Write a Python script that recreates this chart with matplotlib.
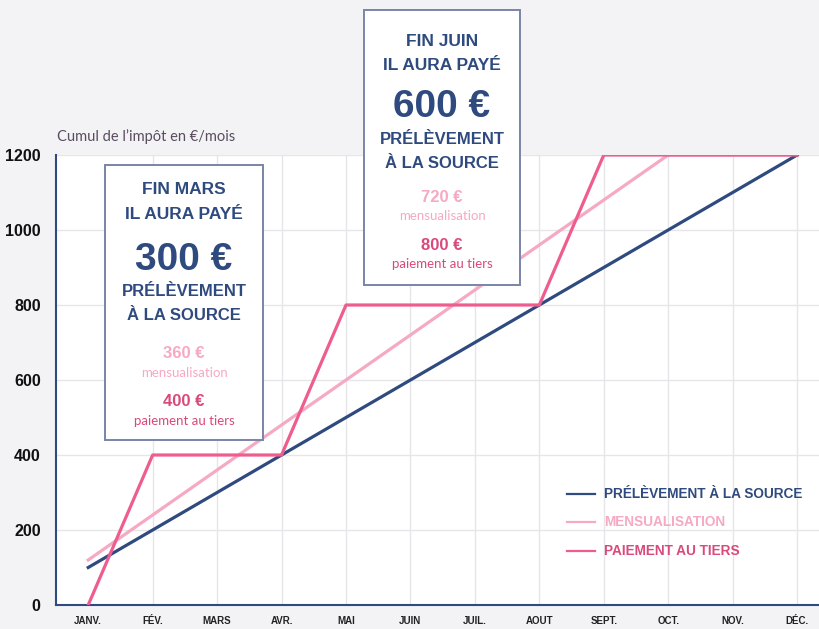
import matplotlib
matplotlib.use("Agg")
import matplotlib.pyplot as plt
from matplotlib.patches import Rectangle
from matplotlib.lines import Line2D

# --- data -----------------------------------------------------------------
months = ["JANV.", "FÉV.", "MARS", "AVR.", "MAI", "JUIN",
          "JUIL.", "AOUT", "SEPT.", "OCT.", "NOV.", "DÉC."]
prelevement = [100, 200, 300, 400, 500, 600, 700, 800, 900, 1000, 1100, 1200]
mensualisation = [120, 240, 360, 480, 600, 720, 840, 960, 1080, 1200, 1200, 1200]
tiers = [0, 400, 400, 400, 800, 800, 800, 800, 1200, 1200, 1200, 1200]
y_ticks = [0, 200, 400, 600, 800, 1000, 1200]

series_labels = ["PRÉLÈVEMENT À LA SOURCE", "MENSUALISATION", "PAIEMENT AU TIERS"]

NAVY = "#2f4a7e"
LIGHT_PINK = "#f6a9c2"
PINK = "#ee5d8e"
PINK_TEXT = "#d9497c"
GRID = "#e6e6ea"
BG = "#f3f3f6"
BOX_EDGE = "#7a84a8"

COND = ["Liberation Sans", "DejaVu Sans"]
THIN = ["Lato", "DejaVu Sans"]

fig = plt.figure(figsize=(8.19, 6.29), dpi=100)
fig.patch.set_facecolor(BG)
ax = fig.add_axes([56 / 819, 24 / 629, 1 - 56 / 819, (605 - 155) / 629])
ax.set_facecolor("white")

x = list(range(len(months)))
ax.plot(x, prelevement, color=NAVY, lw=2.3, zorder=5)
ax.plot(x, mensualisation, color=LIGHT_PINK, lw=2.3, zorder=4)
ax.plot(x, tiers, color=PINK, lw=2.3, zorder=6)

ax.set_xlim(-0.5, 11.34)
ax.set_ylim(0, 1200)
ax.set_xticks(x)
ax.set_xticklabels(months)
ax.set_yticks(y_ticks)
ax.grid(True, color=GRID, lw=1.0, zorder=0)
ax.get_xgridlines()[0].set_visible(False)
ax.set_axisbelow(True)
for s in ["top", "right"]:
    ax.spines[s].set_visible(False)
for s in ["left", "bottom"]:
    ax.spines[s].set_color(NAVY)
    ax.spines[s].set_linewidth(1.5)
ax.tick_params(length=0)
ax.tick_params(axis="y", pad=11)
ax.tick_params(axis="x", pad=8)
for lab in ax.get_yticklabels():
    lab.set_family(COND)
    lab.set_fontweight("bold")
    lab.set_fontsize(11.5)
    lab.set_color("#111111")
for lab in ax.get_xticklabels():
    lab.set_family(COND)
    lab.set_fontweight("bold")
    lab.set_fontsize(7)
    lab.set_color("#222222")

fig.text(57 / 819, 1 - 137 / 629, "Cumul de l’impôt en €/mois",
         fontsize=10.5, color="#5a4c60", va="center", ha="left", family=THIN)


# --- annotation boxes -----------------------------------------------------
def px(xp, yp):
    return xp / 819, 1 - yp / 629


def box(x0, y0, x1, y1, cx, rows):
    fig.add_artist(Rectangle((x0 / 819, 1 - y1 / 629), (x1 - x0) / 819,
                             (y1 - y0) / 629, transform=fig.transFigure,
                             facecolor="white", edgecolor=BOX_EDGE, lw=1.4,
                             zorder=10))
    for yp, txt, size, color, weight, fam in rows:
        fig.text(*px(cx, yp), txt, fontsize=size, color=color, fontweight=weight,
                 family=fam, ha="center", va="center", zorder=11)


def rows_for(head, amount, mens, tie, ys):
    return [
        (ys[0], head, 12.5, NAVY, "bold", COND),
        (ys[1], "IL AURA PAYÉ", 12.5, NAVY, "bold", COND),
        (ys[2], amount, 28, NAVY, "bold", COND),
        (ys[3], "PRÉLÈVEMENT", 12, NAVY, "bold", COND),
        (ys[4], "À LA SOURCE", 12, NAVY, "bold", COND),
        (ys[5], mens, 12, LIGHT_PINK, "bold", COND),
        (ys[6], "mensualisation", 9.5, LIGHT_PINK, "normal", THIN),
        (ys[7], tie, 12, PINK_TEXT, "bold", COND),
        (ys[8], "paiement au tiers", 9.5, PINK_TEXT, "normal", THIN),
    ]


box(105, 165, 263, 440, 184,
    rows_for("FIN MARS", "300 €", "360 €", "400 €",
             [190, 214, 260, 292, 316, 354, 373, 402, 421]))
box(364, 10, 520, 285, 442,
    rows_for("FIN JUIN", "600 €", "720 €", "800 €",
             [42, 66, 107, 139, 163, 197, 216, 245, 264]))

# --- legend ----------------------------------------------------------------
for (yp, lab, col, tcol) in zip([494, 522, 551], series_labels,
                                [NAVY, LIGHT_PINK, PINK],
                                [NAVY, LIGHT_PINK, PINK_TEXT]):
    fig.add_artist(Line2D([567 / 819, 595 / 819], [1 - yp / 629] * 2,
                          transform=fig.transFigure, color=col, lw=1.6))
    fig.text(604 / 819, 1 - yp / 629, lab, fontsize=9.8, color=tcol,
             fontweight="bold", family=COND, va="center", ha="left")

fig.savefig("out.png", dpi=100, facecolor=BG)
